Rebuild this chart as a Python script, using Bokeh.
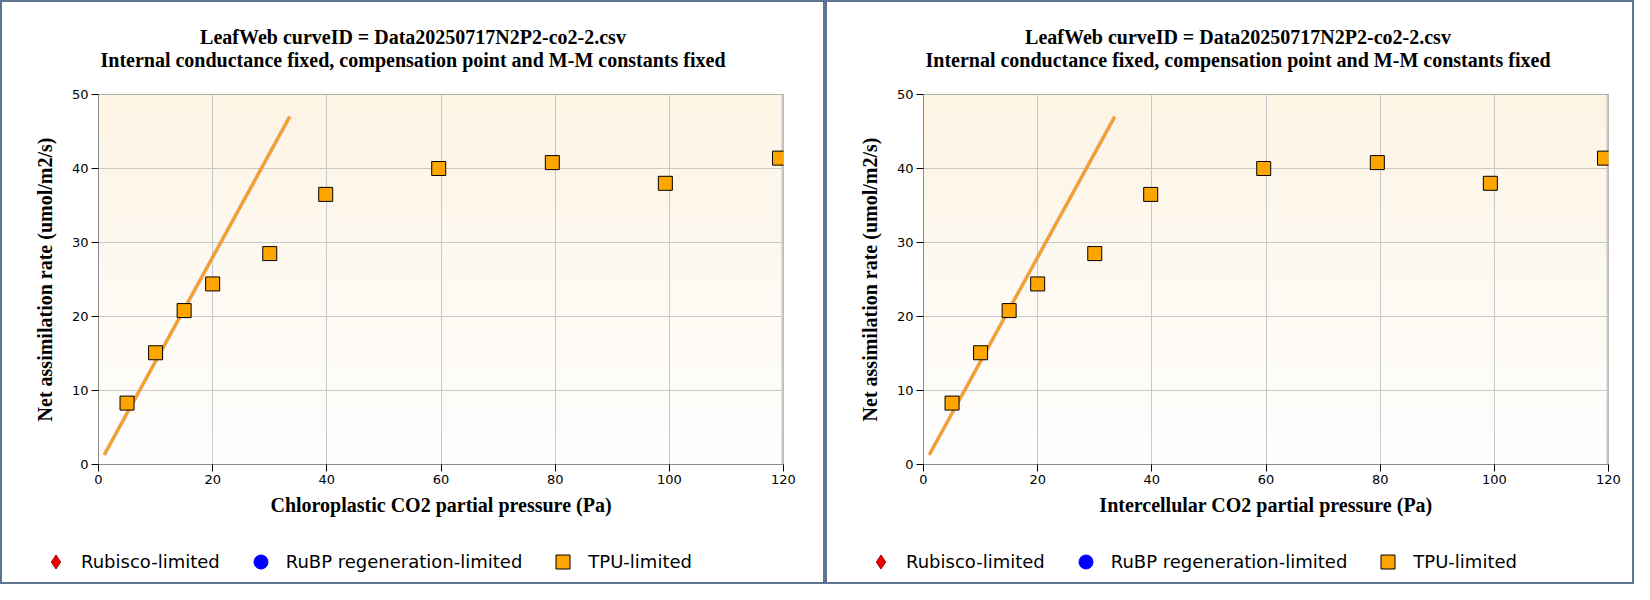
import numpy as np
from bokeh.plotting import figure
from bokeh.models import Range1d, FixedTicker, Label, Legend, LegendItem, ColumnDataSource, Span
from bokeh.layouts import row, column
from bokeh.embed import file_html
from bokeh.resources import INLINE

# ---------------- data ----------------
title_line1 = "LeafWeb curveID = Data20250717N2P2-co2-2.csv"
title_line2 = "Internal conductance fixed, compensation point and M-M constants fixed"
x_labels = ["Chloroplastic CO2 partial pressure (Pa)", "Intercellular CO2 partial pressure (Pa)"]
y_label = "Net assimilation rate (umol/m2/s)"
legend_labels = ["Rubisco-limited", "RuBP regeneration-limited", "TPU-limited"]

co2 = [5.0, 10.0, 15.0, 20.0, 30.0, 39.8, 59.6, 79.5, 99.3, 119.3]
assim = [8.3, 15.1, 20.8, 24.4, 28.5, 36.5, 40.0, 40.8, 38.0, 41.4]
fit_co2 = [1.0, 33.5]
fit_assim = [1.3, 47.0]
x_ticks = [0, 20, 40, 60, 80, 100, 120]
y_ticks = [0, 10, 20, 30, 40, 50]

SERIF = "Liberation Serif"
SANS = "DejaVu Sans"
TOP_H = 84
LEG_H = 50
MAIN_H = 580 - TOP_H - LEG_H


def gradient_image():
    n = 200
    t = np.linspace(0.0, 1.0, n)[:, None]
    top = np.array([253, 244, 228], dtype=float)
    bot = np.array([255, 255, 255], dtype=float)
    cols = bot + (top - bot) * t
    img = np.zeros((n, 1), dtype=np.uint32)
    v = img.view(dtype=np.uint8).reshape((n, 1, 4))
    v[:, 0, 0] = cols[:, 0].astype(np.uint8)
    v[:, 0, 1] = cols[:, 1].astype(np.uint8)
    v[:, 0, 2] = cols[:, 2].astype(np.uint8)
    v[:, 0, 3] = 255
    return img


def strip(width, height):
    s = figure(width=width, height=height, output_backend="svg", toolbar_location=None,
               title=None, x_range=Range1d(0, width), y_range=Range1d(0, height),
               min_border=0, x_axis_type=None, y_axis_type=None)
    s.min_border_left = 0
    s.min_border_right = 0
    s.min_border_top = 0
    s.min_border_bottom = 0
    s.outline_line_color = None
    s.grid.visible = False
    s.background_fill_color = "white"
    s.border_fill_color = "white"
    return s


def make_panel(xlab, width, left_border, right_border):
    # ---- title strip ----
    tf = strip(width, TOP_H)
    for txt, yy in ((title_line1, 50), (title_line2, 26.5)):
        tf.add_layout(Label(x=410.5, y=yy, text=txt, text_align="center",
                            text_baseline="alphabetic", text_font=SERIF,
                            text_font_style="bold", text_font_size="20px",
                            text_color="black"))

    # ---- main chart ----
    p = figure(width=width, height=MAIN_H, output_backend="svg", toolbar_location=None,
               title=None,
               x_range=Range1d(0, 120), y_range=Range1d(0, 50),
               min_border_left=left_border, min_border_right=right_border,
               min_border_top=8, min_border_bottom=MAIN_H - 378)
    p.background_fill_color = "white"
    p.border_fill_color = "white"
    p.outline_line_color = "#9a9a9a"
    p.outline_line_width = 1

    p.image_rgba(image=[gradient_image()], x=0, y=0, dw=120, dh=50, level="image")
    p.add_layout(Span(location=120, dimension="height", line_color="#c8c8c8",
                      line_width=4, level="underlay"))

    for ax in (p.xaxis, p.yaxis):
        ax.axis_line_color = "#8c8c8c"
        ax.major_tick_line_color = "black"
        ax.major_tick_out = 7
        ax.major_tick_in = 0
        ax.minor_tick_line_color = None
        ax.major_label_text_font = SANS
        ax.major_label_text_font_size = "13px"
        ax.major_label_text_color = "black"
        ax.axis_label_text_font = SERIF
        ax.axis_label_text_font_style = "bold"
        ax.axis_label_text_font_size = "20px"
        ax.axis_label_text_color = "black"
    p.xaxis.ticker = FixedTicker(ticks=x_ticks)
    p.yaxis.ticker = FixedTicker(ticks=y_ticks)
    p.xaxis.major_label_standoff = 3
    p.yaxis.major_label_standoff = 3
    p.xaxis.axis_label = xlab
    p.yaxis.axis_label = y_label
    p.xaxis.axis_label_standoff = 7
    p.yaxis.axis_label_standoff = 13

    p.xgrid.ticker = FixedTicker(ticks=x_ticks)
    p.ygrid.ticker = FixedTicker(ticks=y_ticks)
    p.grid.grid_line_color = "#c8c8c8"
    p.grid.grid_line_width = 1

    # fitted Rubisco line
    p.line(fit_co2, fit_assim, line_color="#b98a5e", line_width=3.6, line_alpha=0.7)
    p.line(fit_co2, fit_assim, line_color="#ff9d1c", line_width=2.3)

    p.scatter(co2, assim, marker="square", size=14,
              fill_color="#ffa500", line_color="black", line_width=1)

    # ---- legend strip ----
    lg = strip(width, LEG_H)
    off = dict(x=[-100.0], y=[-100.0])
    r_rub = lg.scatter("x", "y", source=ColumnDataSource(data=off), marker="diamond",
                       size=14, fill_color="#ee0000", line_color="#a00000")
    r_rubp = lg.scatter("x", "y", source=ColumnDataSource(data=off), marker="circle",
                        size=13, fill_color="blue", line_color="blue")
    r_tpu = lg.scatter("x", "y", source=ColumnDataSource(data=off), marker="square",
                       size=14, fill_color="#ffa500", line_color="black", line_width=1)
    legend = Legend(items=[LegendItem(label=legend_labels[0], renderers=[r_rub]),
                           LegendItem(label=legend_labels[1], renderers=[r_rubp]),
                           LegendItem(label=legend_labels[2], renderers=[r_tpu])],
                    orientation="horizontal", location=(36, 3),
                    glyph_width=35, glyph_height=35, label_standoff=8, spacing=23,
                    padding=0, margin=0, border_line_color=None,
                    background_fill_alpha=0.0,
                    label_text_font=SANS, label_text_font_size="18px",
                    label_text_color="black")
    lg.add_layout(legend, "center")
    return column(row(tf), row(p), row(lg), styles={"border": "2px solid #5d7493"})


c1 = make_panel(x_labels[0], 821, 96, 40)
c2 = make_panel(x_labels[1], 805, 96, 24)
layout = row(c1, c2)

open("out.html", "w").write(file_html(layout, INLINE))
